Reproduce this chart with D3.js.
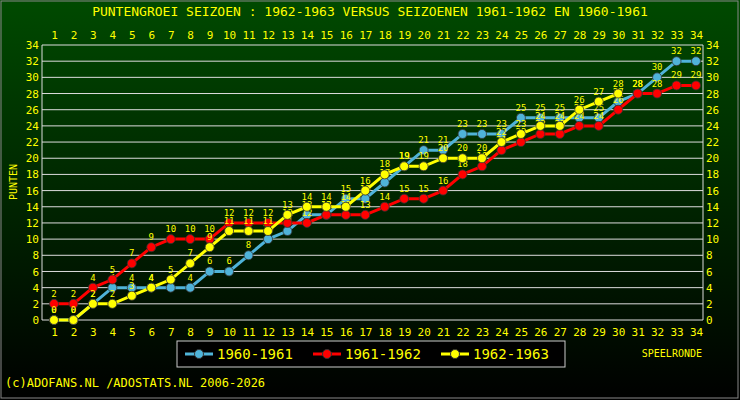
<!DOCTYPE html><html><head><meta charset="utf-8"><script src="https://cdn.jsdelivr.net/npm/d3@7"></script>
<style>body{margin:0;background:#000}</style></head><body><svg id="c" width="740" height="400"></svg>
<script>
const rounds = d3.range(1,35);
const yTicks = d3.range(0,35,2);
const s1960 = [0,0,2,4,4,4,4,4,6,6,8,10,11,13,13,15,15,17,19,21,21,23,23,23,25,25,25,25,25,27,28,30,32,32];
const s1961 = [2,2,4,5,7,9,10,10,10,12,12,12,12,12,13,13,13,14,15,15,16,18,19,21,22,23,23,24,24,26,28,28,29,29];
const s1962 = [0,0,2,2,3,4,5,7,9,11,11,11,13,14,14,14,16,18,19,19,20,20,20,22,23,24,24,26,27,28];
const names = ["1960-1961","1961-1962","1962-1963"];
const colors = ["#4fb3d9","#ff0000","#ffff00"];
const series=[s1960,s1961,s1962];
const svg=d3.select("#c");
const defs=svg.append("defs");
const g=defs.append("linearGradient").attr("id","bg").attr("x1",0).attr("y1",0).attr("x2",0).attr("y2",1);
g.append("stop").attr("offset","0").attr("stop-color","#004a00");
g.append("stop").attr("offset","1").attr("stop-color","#000000");
svg.append("rect").attr("width",740).attr("height",400).attr("fill","url(#bg)");
svg.append("rect").attr("x",1).attr("y",1).attr("width",737).attr("height",397).attr("fill","none").attr("stroke","#888");
const x=d3.scaleLinear().domain([1,34]).range([54,696]);
const y=d3.scaleLinear().domain([0,34]).range([320,45]);
const font="DejaVu Sans Mono";
svg.append("text").attr("x",370).attr("y",16).attr("text-anchor","middle").attr("fill","#ffff00").attr("font-family",font).attr("font-size",13).text("PUNTENGROEI  SEIZOEN : 1962-1963 VERSUS SEIZOENEN 1961-1962 EN 1960-1961");
svg.append("g").selectAll("line").data(yTicks).join("line").attr("x1",42).attr("x2",703).attr("y1",d=>y(d)).attr("y2",d=>y(d)).attr("stroke","#ddd").attr("stroke-width",1);
svg.append("line").attr("x1",42).attr("x2",42).attr("y1",y(34)).attr("y2",y(0)).attr("stroke","#ddd");
svg.append("line").attr("x1",703).attr("x2",703).attr("y1",y(34)).attr("y2",y(0)).attr("stroke","#ddd");
const yl=d3.axisLeft(y).tickValues(yTicks).tickSize(0).tickPadding(3);
const yr=d3.axisRight(y).tickValues(yTicks).tickSize(0).tickPadding(3);
const xb=d3.axisBottom(x).tickValues(rounds).tickSize(0).tickPadding(6);
const xt=d3.axisTop(x).tickValues(rounds).tickSize(0).tickPadding(4);
function sty(a){a.select(".domain").remove();a.selectAll("text").attr("fill","#ffff00").attr("font-family",font).attr("font-size",11);}
svg.append("g").attr("transform","translate(42,0)").call(yl).call(sty);
svg.append("g").attr("transform","translate(703,0)").call(yr).call(sty);
svg.append("g").attr("transform","translate(0,322)").call(xb).call(sty);
svg.append("g").attr("transform","translate(0,43)").call(xt).call(sty);
svg.append("text").attr("transform","translate(17,182) rotate(-90)").attr("text-anchor","middle").attr("fill","#ffff00").attr("font-family",font).attr("font-size",10).text("PUNTEN");
svg.append("text").attr("x",702).attr("y",357).attr("text-anchor","end").attr("fill","#ffff00").attr("font-family",font).attr("font-size",10).text("SPEELRONDE");
const line=d3.line().x((d,i)=>x(i+1)).y(d=>y(d));
series.forEach((s,k)=>{
 svg.append("path").datum(s).attr("d",line).attr("fill","none").attr("stroke",colors[k]).attr("stroke-width",3);
});
series.forEach((s,k)=>{
 svg.append("g").selectAll("circle").data(s).join("circle").attr("cx",(d,i)=>x(i+1)).attr("cy",d=>y(d)).attr("r",4.5).attr("fill",colors[k]).attr("stroke","#333").attr("stroke-width",0.8);
 svg.append("g").selectAll("text").data(s).join("text").attr("x",(d,i)=>x(i+1)).attr("y",d=>y(d)-7).attr("text-anchor","middle").attr("fill","#ffff00").attr("font-family",font).attr("font-size",9).text(d=>d);
});
const lg=svg.append("g");
lg.append("rect").attr("x",177).attr("y",341).attr("width",388).attr("height",26).attr("fill","#000").attr("stroke","#ccc");
names.forEach((n,k)=>{
 const x0=185+k*128;
 lg.append("line").attr("x1",x0).attr("x2",x0+28).attr("y1",354).attr("y2",354).attr("stroke",colors[k]).attr("stroke-width",3);
 lg.append("circle").attr("cx",x0+14).attr("cy",354).attr("r",4.5).attr("fill",colors[k]).attr("stroke","#333");
 lg.append("text").attr("x",x0+32).attr("y",359).attr("fill","#ffff00").attr("font-family",font).attr("font-size",14).text(n);
});
svg.append("text").attr("x",5).attr("y",387).attr("fill","#ffff00").attr("font-family",font).attr("font-size",12).text("(c)ADOFANS.NL /ADOSTATS.NL 2006-2026");
</script></body></html>
